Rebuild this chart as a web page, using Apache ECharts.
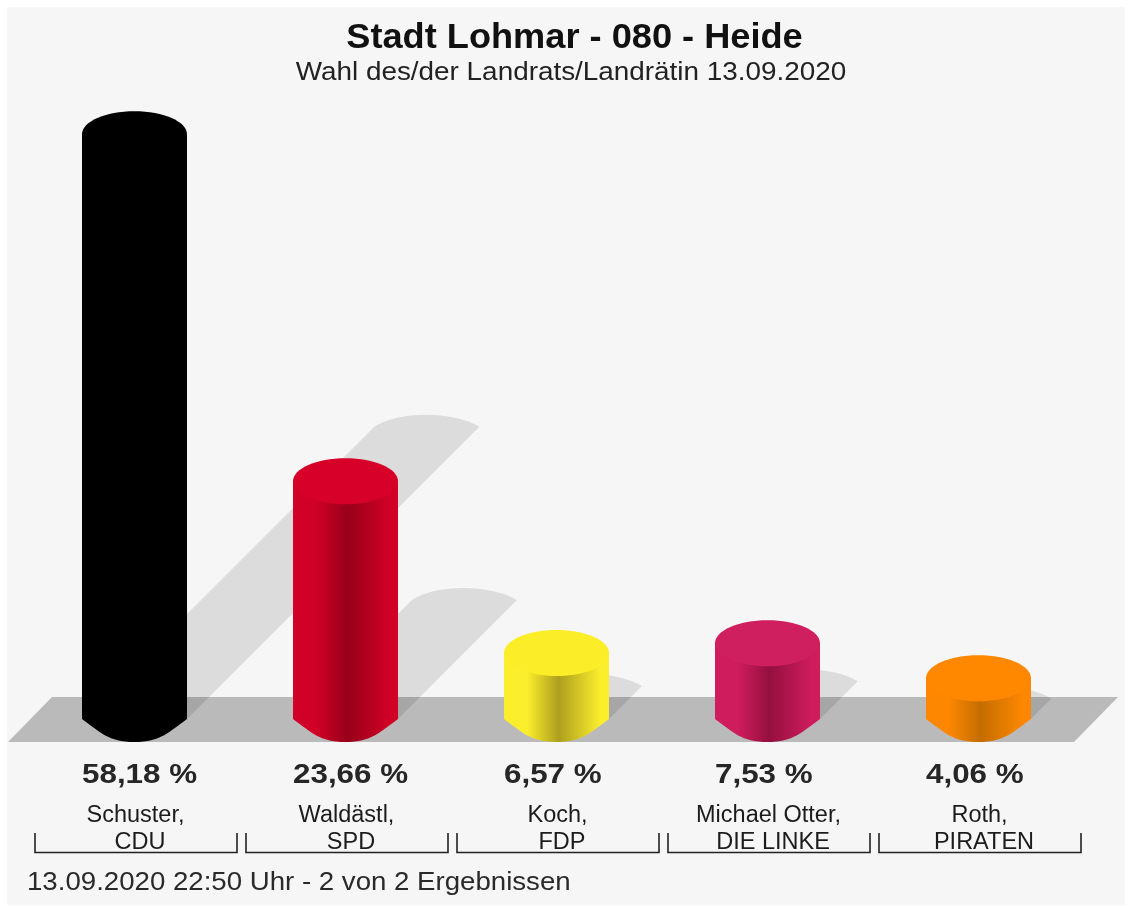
<!DOCTYPE html>
<html>
<head>
<meta charset="utf-8">
<title>Stadt Lohmar - 080 - Heide</title>
<style>
  html, body { margin: 0; padding: 0; background: #fff; }
  #chart { width: 1133px; height: 906px; }
</style>
<script src="https://cdn.jsdelivr.net/npm/echarts@6/dist/echarts.min.js"></script>
</head>
<body>
<div id="chart"></div>
<script>
const candidates = ['Schuster,', 'Waldästl,', 'Koch,', 'Michael Otter,', 'Roth,'];
const parties = ['CDU', 'SPD', 'FDP', 'DIE LINKE', 'PIRATEN'];
const values = [58.18, 23.66, 6.57, 7.53, 4.06];
const valueLabels = ['58,18 %', '23,66 %', '6,57 %', '7,53 %', '4,06 %'];
const sideColors = ['#000000', '#d00026', '#fbee2c', '#cf1c5c', '#fd8700'];
const darkColors = ['#000000', '#98001a', '#ad9f1e', '#94103e', '#c46d00'];
const capColors = ['#000000', '#d60028', '#fbee28', '#d01f5f', '#ff8800'];

const FONT = '"Liberation Sans", Arial, sans-serif';
const BAR_RX = 52.5;
const CAP_RY = 23;
const SHADOW_RY = 12;

const chart = echarts.init(document.getElementById('chart'), null, { renderer: 'canvas' });
const seriesData = values.map((v, i) => [i, v]);

function renderFloor(params, api) {
  if (params.dataIndex !== 0) return null;
  const sys = params.coordSys;
  const y0 = api.coord([0, 0])[1];
  return {
    type: 'polygon',
    silent: true,
    shape: {
      points: [
        [sys.x - 21, y0 + CAP_RY],
        [sys.x + 23, y0 - 22],
        [sys.x + sys.width + 34, y0 - 22],
        [sys.x + sys.width - 10, y0 + CAP_RY]
      ]
    },
    style: { fill: '#bababa' }
  };
}

function renderShadow(params, api) {
  const base = api.coord([api.value(0), 0]);
  const top = api.coord([api.value(0), api.value(1)]);
  const h = base[1] - top[1];
  const cx = base[0] + h / 2;
  const cy = base[1] - h / 2;
  const lift = SHADOW_RY * 4 / 3;
  const d = [
    'M', base[0] - BAR_RX, base[1],
    'L', cx - BAR_RX, cy,
    'C', cx - BAR_RX * 0.55, cy - lift, cx + BAR_RX * 0.5, cy - lift, cx + BAR_RX, cy,
    'L', base[0] + BAR_RX, base[1],
    'Z'
  ].join(' ');
  return {
    type: 'path',
    silent: true,
    shape: {
      pathData: d,
      layout: 'cover',
      x: base[0] - BAR_RX,
      y: cy - SHADOW_RY,
      width: h / 2 + 2 * BAR_RX,
      height: h / 2 + SHADOW_RY
    },
    style: { fill: 'rgba(0,0,0,0.105)' }
  };
}

function renderCylinder(params, api) {
  const i = params.dataIndex;
  const base = api.coord([api.value(0), 0]);
  const top = api.coord([api.value(0), api.value(1)]);
  const x0 = base[0] - BAR_RX;
  const x1 = base[0] + BAR_RX;
  const body = [
    'M', x0, top[1],
    'L', x0, base[1],
    'C', x0 + 18, base[1] + 13, base[0] - 26, base[1] + CAP_RY, base[0], base[1] + CAP_RY,
    'C', base[0] + 26, base[1] + CAP_RY, x1 - 18, base[1] + 13, x1, base[1],
    'L', x1, top[1],
    'Z'
  ].join(' ');
  const gradient = new echarts.graphic.LinearGradient(0, 0, 1, 0, [
    { offset: 0, color: sideColors[i] },
    { offset: 0.22, color: sideColors[i] },
    { offset: 0.52, color: darkColors[i] },
    { offset: 0.92, color: sideColors[i] },
    { offset: 1, color: sideColors[i] }
  ]);
  return {
    type: 'group',
    silent: true,
    children: [
      {
        type: 'path',
        shape: {
          pathData: body,
          layout: 'cover',
          x: x0,
          y: top[1],
          width: 2 * BAR_RX,
          height: base[1] + CAP_RY - top[1]
        },
        style: { fill: gradient }
      },
      {
        type: 'ellipse',
        shape: { cx: base[0], cy: top[1], rx: BAR_RX, ry: CAP_RY },
        style: { fill: capColors[i] }
      }
    ]
  };
}

function renderValueLabel(params, api) {
  const i = params.dataIndex;
  const base = api.coord([api.value(0), 0]);
  return {
    type: 'text',
    silent: true,
    x: base[0] - BAR_RX,
    y: base[1] + 56,
    scaleX: 1.12,
    style: {
      text: valueLabels[i],
      font: 'bold 28px ' + FONT,
      fill: '#262626',
      textAlign: 'left',
      textVerticalAlign: 'middle'
    }
  };
}

function renderBracket(params, api) {
  const base = api.coord([api.value(0), 0]);
  const half = api.size([1, 0])[0] / 2 - 4.5;
  const cx = base[0] + 1.5;
  return {
    type: 'polyline',
    silent: true,
    shape: {
      points: [
        [cx - half, base[1] + 114],
        [cx - half, base[1] + 133.5],
        [cx + half, base[1] + 133.5],
        [cx + half, base[1] + 114]
      ]
    },
    style: { stroke: '#222222', lineWidth: 1.6, fill: 'none' }
  };
}

function customSeries(name, renderItem) {
  return {
    name,
    type: 'custom',
    data: seriesData,
    renderItem,
    encode: { x: 0, y: 1 },
    clip: false,
    animation: false,
    silent: true
  };
}

chart.setOption({
  animation: false,
  backgroundColor: '#ffffff',
  graphic: [
    {
      type: 'rect',
      z: -10,
      silent: true,
      shape: { x: 7, y: 7, width: 1118, height: 898 },
      style: { fill: '#f6f6f6' }
    },
    {
      type: 'text',
      x: 574.5,
      y: 38,
      scaleX: 1.034,
      silent: true,
      style: {
        text: 'Stadt Lohmar - 080 - Heide',
        font: 'bold 35px ' + FONT,
        fill: '#111111',
        textAlign: 'center',
        textVerticalAlign: 'middle'
      }
    },
    {
      type: 'text',
      x: 571,
      y: 73,
      scaleX: 1.072,
      silent: true,
      style: {
        text: 'Wahl des/der Landrats/Landrätin 13.09.2020',
        font: '26px ' + FONT,
        fill: '#222222',
        textAlign: 'center',
        textVerticalAlign: 'middle'
      }
    },
    {
      type: 'text',
      x: 27,
      y: 883,
      scaleX: 1.105,
      silent: true,
      style: {
        text: '13.09.2020 22:50 Uhr - 2 von 2 Ergebnissen',
        font: '25px ' + FONT,
        fill: '#2a2a2a',
        textVerticalAlign: 'middle'
      }
    }
  ],
  grid: { left: 29, top: 116, width: 1055, height: 603 },
  xAxis: {
    type: 'category',
    data: candidates.map((c, i) => c + '|' + parties[i]),
    axisLine: { show: false },
    axisTick: { show: false },
    axisLabel: {
      interval: 0,
      margin: 83,
      fontFamily: FONT,
      formatter: (v) => {
        const parts = v.split('|');
        return '{name|' + parts[0] + '}\n{party|' + parts[1] + '}';
      },
      rich: {
        name: { fontFamily: FONT, fontSize: 23.5, color: '#1c1c1c', lineHeight: 27, padding: [0, 0, 0, 2] },
        party: { fontFamily: FONT, fontSize: 23.5, color: '#1c1c1c', lineHeight: 27, padding: [0, 0, 0, 11] }
      }
    }
  },
  yAxis: { type: 'value', min: 0, max: 60, show: false, splitLine: { show: false } },
  series: [
    customSeries('floor', renderFloor),
    customSeries('shadow', renderShadow),
    customSeries('bars', renderCylinder),
    customSeries('values', renderValueLabel),
    customSeries('brackets', renderBracket)
  ]
});
</script>
</body>
</html>
